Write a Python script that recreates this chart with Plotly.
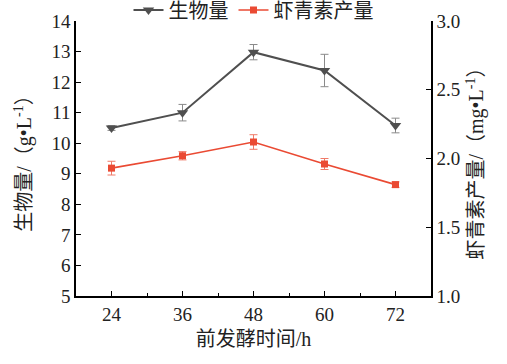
import plotly.graph_objects as go

hours = [24, 36, 48, 60, 72]
biomass = [10.5, 11.0, 12.98, 12.38, 10.58]
biomass_err = [0.08, 0.27, 0.25, 0.53, 0.24]
astax = [1.93, 2.02, 2.12, 1.96, 1.81]
astax_err = [0.05, 0.03, 0.053, 0.04, 0.02]

x_ticks = [24, 36, 48, 60, 72]
y1_ticks = [5, 6, 7, 8, 9, 10, 11, 12, 13, 14]
y2_ticks = [1.0, 1.5, 2.0, 2.5, 3.0]

GRAY = "#4f4f4f"
RED = "#ea4a33"
FONT = "Liberation Serif, Noto Sans CJK SC, serif"

fig = go.Figure()
fig.add_trace(go.Scatter(
    x=hours, y=biomass, name="生物量", mode="lines+markers",
    line=dict(color=GRAY, width=2),
    marker=dict(symbol="triangle-down", size=10, color=GRAY),
    error_y=dict(type="data", array=biomass_err, color="#8a8a8a", thickness=1, width=4),
    yaxis="y",
))
fig.add_trace(go.Scatter(
    x=hours, y=astax, name="虾青素产量", mode="lines+markers",
    line=dict(color=RED, width=1.6),
    marker=dict(symbol="square", size=7, color=RED),
    error_y=dict(type="data", array=astax_err, color="#f07a68", thickness=1, width=4),
    yaxis="y2",
))

fig.update_layout(
    width=507, height=364,
    margin=dict(l=76, r=76, t=21, b=68, autoexpand=False),
    paper_bgcolor="white", plot_bgcolor="white",
    font=dict(family=FONT, size=19, color="#222"),
    showlegend=True,
    legend=dict(orientation="h", x=0.5, xanchor="center", y=1.04, yanchor="middle",
                font=dict(size=20), bgcolor="rgba(0,0,0,0)", tracegroupgap=0),
    xaxis=dict(
        range=[18, 78], tickvals=x_ticks, ticktext=[str(v) for v in x_ticks],
        ticks="inside", ticklen=5, tickcolor="black", showline=True, linecolor="black",
        linewidth=1.5, showgrid=False, zeroline=False, mirror=False,
        minor=dict(tickvals=[30, 42, 54, 66], ticks="inside", ticklen=3, tickcolor="black"),
        title=dict(text="前发酵时间/h", font=dict(size=20), standoff=8),
        tickfont=dict(size=19), automargin=False,
    ),
    yaxis=dict(
        range=[5, 14], tickvals=y1_ticks, ticks="inside", ticklen=5, tickcolor="black",
        showline=True, linecolor="black", linewidth=1.5, showgrid=False, zeroline=False,
        title=dict(text="生物量/（g•L<sup>-1</sup>）", font=dict(size=20), standoff=14),
        tickfont=dict(size=19), automargin=False,
    ),
    yaxis2=dict(
        range=[1.0, 3.0], tickvals=y2_ticks, tickformat=".1f", overlaying="y", side="right",
        ticks="inside", ticklen=5, tickcolor="black", showline=True, linecolor="black",
        linewidth=1.5, showgrid=False, zeroline=False,
        title=dict(text="虾青素产量/（mg•L<sup>-1</sup>）", font=dict(size=20), standoff=10),
        tickfont=dict(size=19), automargin=False,
    ),
)

fig.write_html("out.html", config={"displayModeBar": False},
               post_script="document.body.style.margin='0';")
